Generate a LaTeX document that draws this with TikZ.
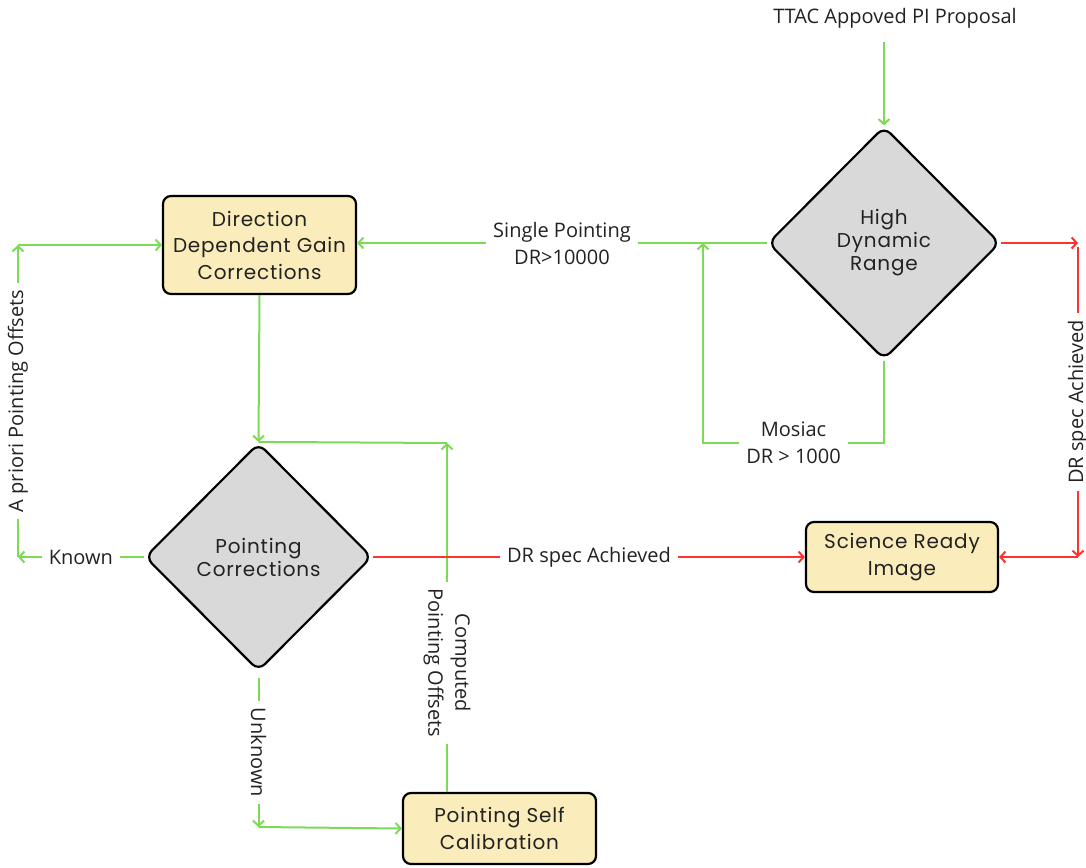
\documentclass[tikz,border=0pt]{standalone}
\usepackage{fontspec}
\setmainfont{Poppins}
\newfontfamily\boxfont[LetterSpace=4]{Poppins}
\newfontfamily\lblfont{Open Sans}
\usepackage{tikz}
\usetikzlibrary{shapes.geometric, arrows.meta, positioning, calc}

\definecolor{flowgreen}{RGB}{126,217,87}
\definecolor{flowred}{RGB}{255,49,49}
\definecolor{boxfill}{RGB}{250,236,187}
\definecolor{decfill}{RGB}{217,217,217}
\definecolor{inkgrey}{RGB}{34,34,34}

\begin{document}
\begin{tikzpicture}[
  x=1pt, y=-1pt,
  box/.style     ={rectangle, rounded corners=8pt, draw=black, line width=2.2pt, fill=boxfill, align=center, inner sep=0pt, minimum width=193pt, text=inkgrey, font=\boxfont\fontsize{20}{26.5}\selectfont},
  decision/.style={diamond, aspect=1, rounded corners=9pt, draw=black, line width=2.2pt, fill=decfill, align=center, inner sep=0pt, text=inkgrey, font=\boxfont\fontsize{20}{23}\selectfont},
  lbl/.style     ={fill=white, align=center, inner sep=7pt, text=inkgrey, font=\lblfont\fontsize{20}{27}\selectfont},
  garr/.style    ={-{Straight Barb[length=5pt, width=11pt, line width=2pt]}, draw=flowgreen, line width=2pt},
  gline/.style   ={draw=flowgreen, line width=2pt},
  rarr/.style    ={-{Straight Barb[length=5pt, width=11pt, line width=2pt]}, draw=flowred, line width=2pt}
  ]
  \useasboundingbox (0,0) rectangle (1086,867);

  \node[lbl, inner sep=2pt] (ttac) at (895,18) {TTAC Appoved PI Proposal};
  \node[decision, minimum width=232pt, minimum height=233pt] (hdr) at (884,243) {High\\Dynamic\\Range};
  \node[box, minimum height=98pt] (ddg) at (259.5,245) {Direction\\Dependent Gain\\Corrections};
  \node[decision, minimum width=227pt, minimum height=228pt] (pc) at (258.5,557) {Pointing\\Corrections};
  \node[box, minimum width=192pt, minimum height=70pt] (sri) at (902,557) {Science Ready\\Image};
  \node[box, minimum height=71pt] (psc) at (499.5,828.5) {Pointing Self\\Calibration};

  \coordinate (mosj) at (703,243);
  \coordinate (rtop) at (1078,243);
  \coordinate (rbot) at (1078,557);
  \coordinate (cmpj) at (447,443);
  \coordinate (kn)   at (18,557);
  \coordinate (ka)   at (18,245);
  \coordinate (uk)   at (258.5,827);

  \draw[garr] ([yshift=-12pt]ttac.south -| hdr.north) -- (hdr.north);
  \draw[garr] (hdr.west) -- node[lbl]{Single Pointing\\DR>10000} (hdr.west -| ddg.east);
  \draw[garr] (hdr.south) -- (hdr.south |- cmpj) -| node[lbl, pos=0.25]{Mosiac\\DR > 1000} (mosj);
  \draw[rarr] (hdr.east) -- (rtop);
  \draw[rarr] ([yshift=-4pt]rtop) -- node[lbl, rotate=90]{DR spec Achieved} (rbot);
  \draw[rarr] (rbot) -- (sri.east);

  \draw[garr] (ddg.south) -- (pc.north);
  \draw[gline] (cmpj) -- (pc.north);
  \draw[garr] (psc.north -| cmpj) -- node[lbl, rotate=-90, pos=0.37]{Computed\\Pointing Offsets} (cmpj);
  \draw[rarr] (pc.east) -- node[lbl]{DR spec Achieved} (sri.west);
  \draw[garr] (pc.west) -- node[lbl]{Known} (kn);
  \draw[garr] (kn) -- node[lbl, rotate=90]{A priori Pointing Offsets} (ka);
  \draw[garr] (ka) -- (ddg.west);
  \draw[garr] ([yshift=-6pt]pc.south) -- node[lbl, rotate=-90]{Unknown} (uk);
  \draw[garr] (uk) -- (psc.west);

\end{tikzpicture}
\end{document}
